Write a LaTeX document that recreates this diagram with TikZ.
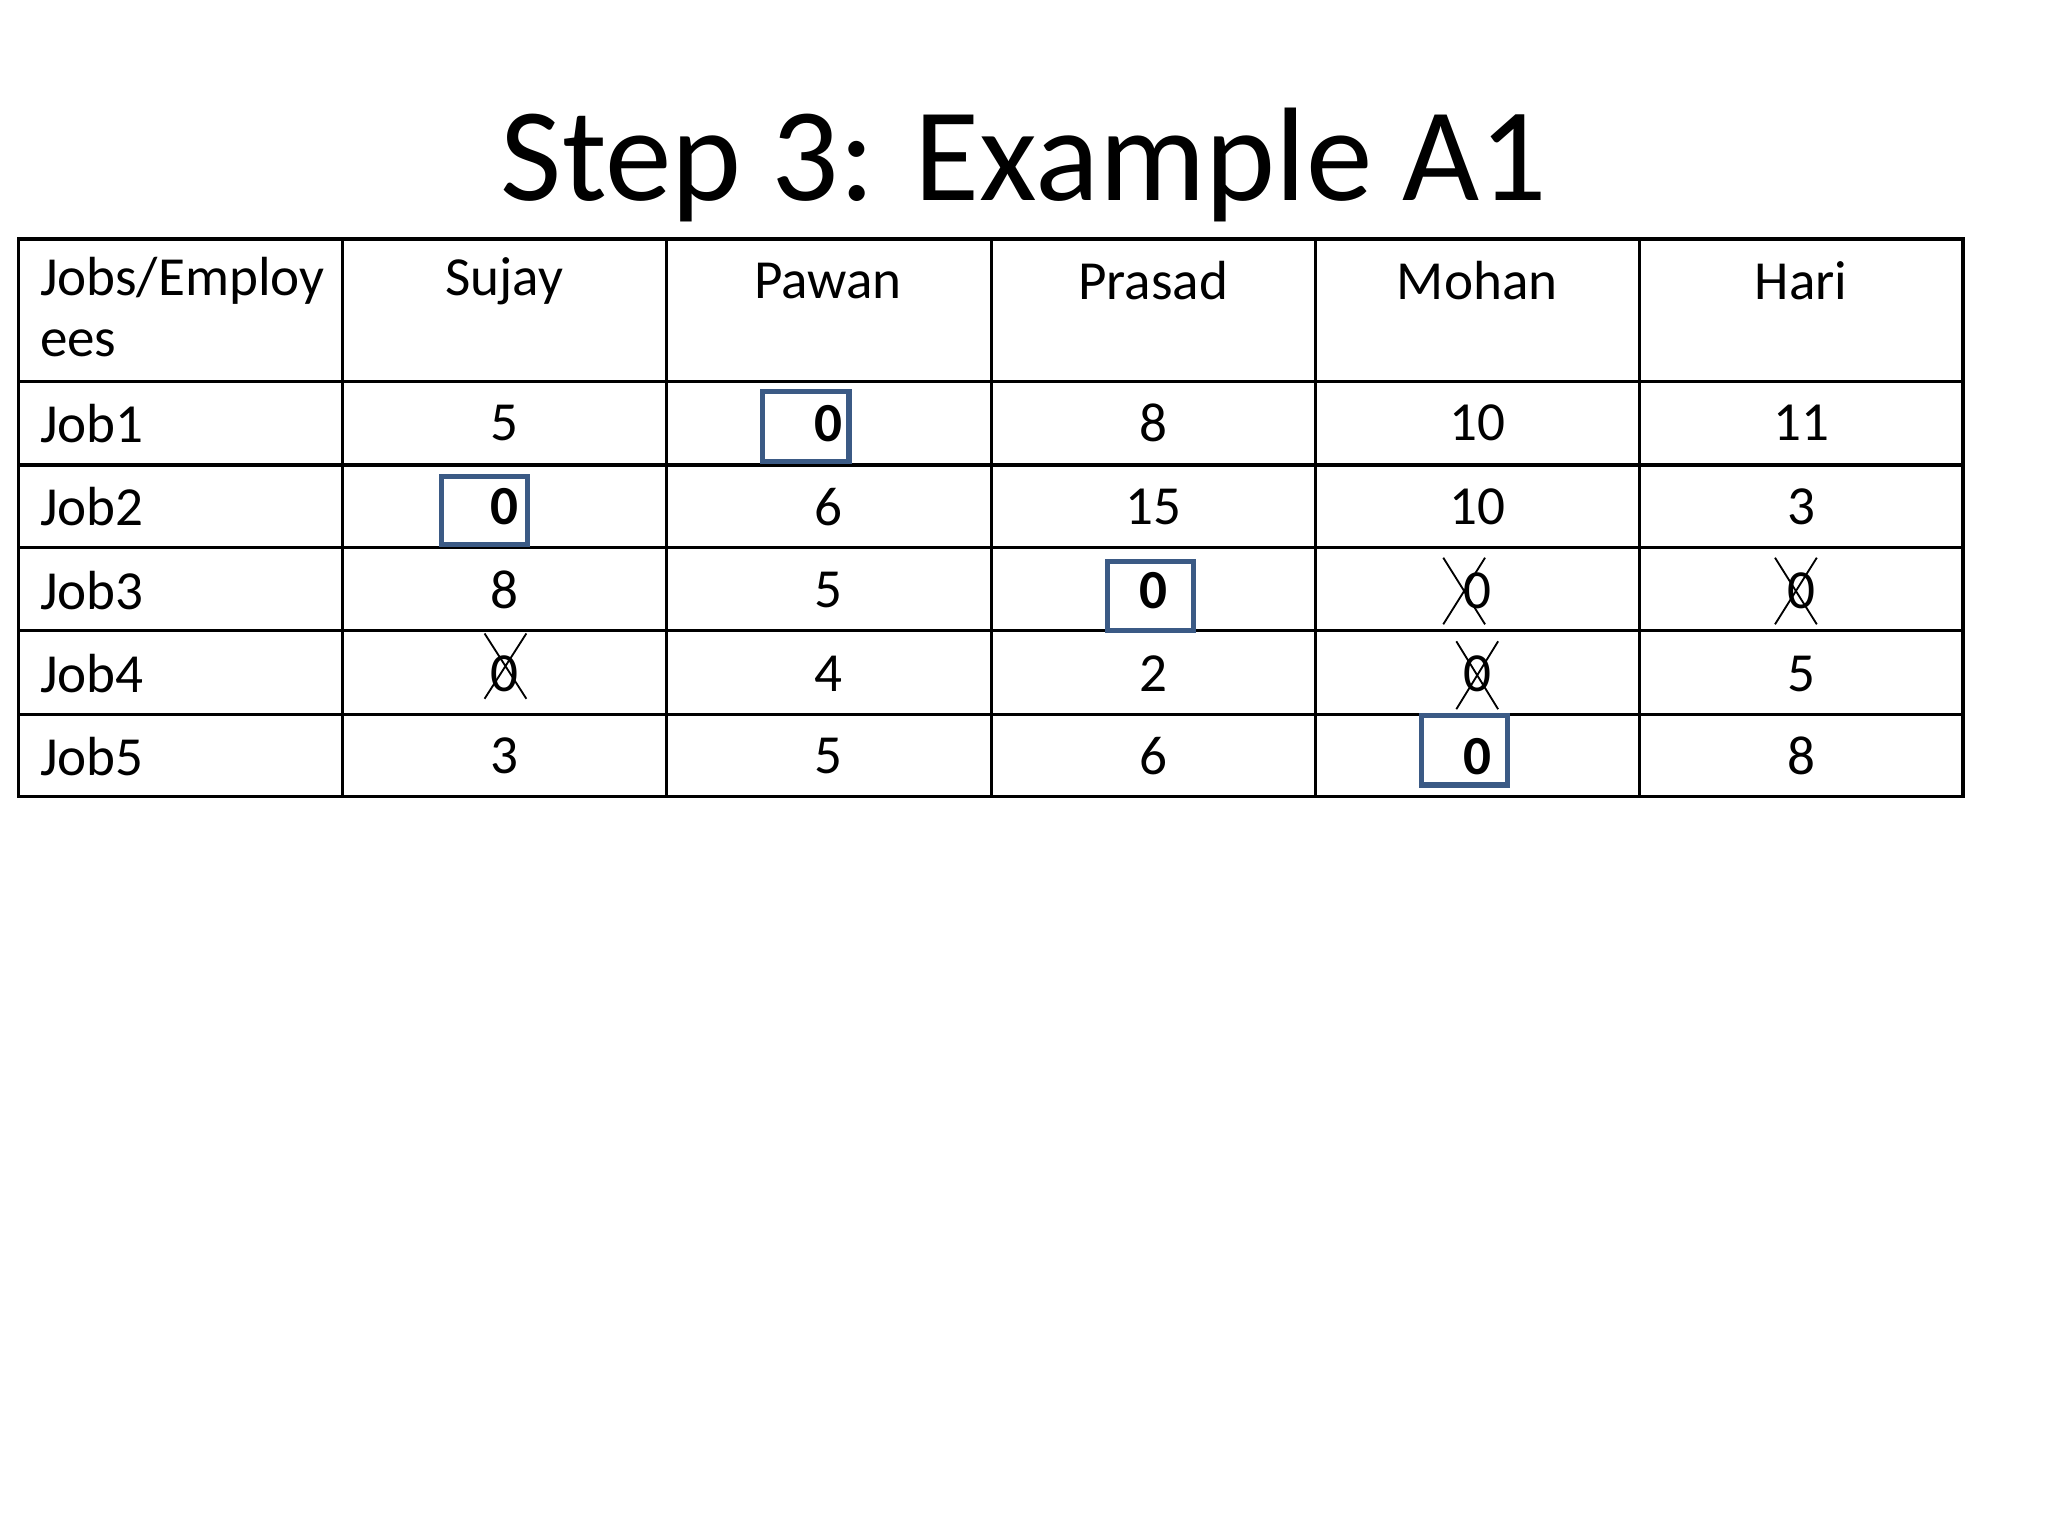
\documentclass[tikz,border=0pt]{standalone}
\usepackage{fontspec}
\setmainfont{Carlito}
\begin{document}
\begin{tikzpicture}[x=0.01cm,y=-0.01cm,
  cell/.style={font=\fontsize{12pt}{14pt}\selectfont,inner sep=0pt},
  sel/.style={draw=selblue,line width=1.1pt},
  xmark/.style={line width=0.4pt}]
\definecolor{selblue}{HTML}{3B5A85}
\useasboundingbox[fill=white] (0,0) rectangle (1568,1176);
\node[font=\fontsize{29pt}{34pt}\selectfont,inner sep=0pt] (title) at (784,126) {Step 3: Example A1};
% grid
\draw[line width=0.7pt] (14,183) rectangle (1503,610);
\foreach \x in {262,510,759,1007,1255} \draw[line width=0.7pt] (\x,183) -- (\x,610);
\foreach \y in {292,356,419,483,547} \draw[line width=0.7pt] (14,\y) -- (1503,\y);
% header
\node[cell,anchor=west] (h0) at (30,215) {Jobs/Employ};
\node[cell,anchor=west] (h0b) at (30,263) {ees};
\foreach \n/\x in {Sujay/386,Pawan/634,Prasad/883,Mohan/1131,Hari/1379}
  \node[cell] (h\n) at (\x,215) {\n};
% rows
\def\cols{386,634,883,1131,1379}
\foreach \r/\y/\vals in {1/324/{5,{},8,10,11},2/388/{{},6,15,10,3},3/452/{8,5,{},0,0},4/516/{0,4,2,0,5},5/579/{3,5,6,{},8}}{
  \node[cell,anchor=west] (j\r) at (30,\y) {Job\r};
  \foreach \v [count=\i] in \vals {
    \pgfmathsetmacro\xx{{\cols}[\i-1]}
    \node[cell] (c\r\i) at (\xx,\y) {\v};
  }
}
% selected zeros
\node[cell,font=\fontsize{12pt}{14pt}\selectfont\bfseries] (z12) at (634,324) {0};
\draw[sel] (584,300) rectangle (650,353);
\node[cell,font=\fontsize{12pt}{14pt}\selectfont\bfseries] (z21) at (386,388) {0};
\draw[sel] (338,365) rectangle (404,417);
\node[cell,font=\fontsize{12pt}{14pt}\selectfont\bfseries] (z33) at (883,452) {0};
\draw[sel] (848,430) rectangle (914,483);
\node[cell,font=\fontsize{12pt}{14pt}\selectfont\bfseries] (z54) at (1131,579) {0};
\draw[sel] (1088,548) rectangle (1154,601);
% crossed zeros
\draw[xmark] (1105,427) -- (1137,478) (1137,427) -- (1105,478);
\draw[xmark] (1359,427) -- (1391,478) (1391,427) -- (1359,478);
\draw[xmark] (371,485) -- (403,535) (403,485) -- (371,535);
\draw[xmark] (1115,491) -- (1147,543) (1147,491) -- (1115,543);
\end{tikzpicture}
\end{document}
